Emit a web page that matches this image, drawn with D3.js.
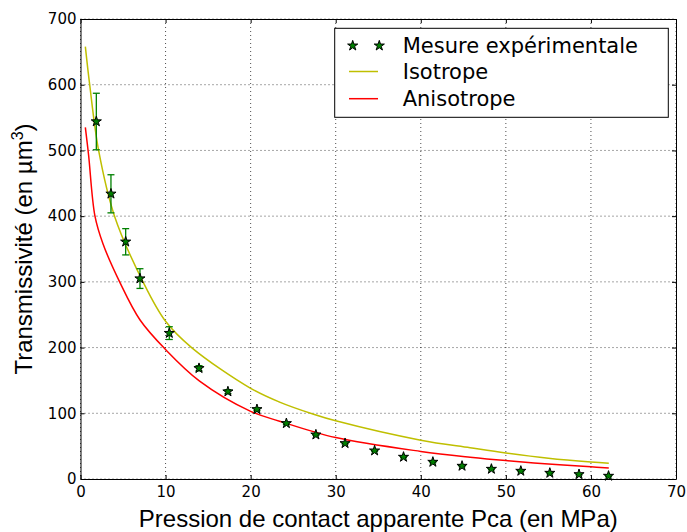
<!DOCTYPE html>
<html>
<head>
<meta charset="utf-8">
<script src="https://cdn.jsdelivr.net/npm/d3@7"></script>
<style>
  body { margin: 0; background: #fff; }
  svg { display: block; }
</style>
</head>
<body>
<div id="chart"></div>
<script>
// ---- Data ----
const pressure = [1.86, 3.58, 5.31, 6.99, 10.44, 13.93, 17.33, 20.74, 24.2, 27.67, 31.1, 34.57, 37.97, 41.42, 44.85, 48.3, 51.76, 55.17, 58.6, 62.07];
const measured = [544, 434, 361, 305, 222, 168.5, 133, 106, 84.7, 67.4, 54.3, 43.1, 33.5, 25.9, 19.8, 15.2, 12.2, 9.1, 7.1, 4.6];
const errors   = [43, 29, 20, 15, 9.7, 4, 3, 2, 1.5, 1, 1, 1, 1, 1, 1, 1, 1, 1, 1, 1];

const isoX   = [0.57, 1.08, 2.13, 4.0, 7.35, 10, 13.06, 20, 23.4, 27.4, 30, 40, 45.8, 50, 55, 60, 62.1];
const isoY   = [658, 600, 500, 400, 300, 240, 200, 138, 117, 98.5, 88.5, 59, 47.5, 39.5, 31.5, 25.8, 24];
const anisoX = [0.57, 0.95, 1.7, 2.64, 4.6, 7.0, 10, 14, 20, 23.4, 30, 40, 45.8, 50, 55, 60, 62.1];
const anisoY = [535, 493, 400, 358, 300, 242, 197, 149, 103, 88, 63, 42, 33.2, 28, 22.9, 18.7, 16.6];

const xTicks = [0, 10, 20, 30, 40, 50, 60, 70];
const yTicks = [0, 100, 200, 300, 400, 500, 600, 700];
const legendLabels = ["Mesure expérimentale", "Isotrope", "Anisotrope"];

// ---- Layout ----
const W = 687, H = 532;
const m = { left: 80.5, right: 11, top: 19, bottom: 53 };
const iw = W - m.left - m.right, ih = H - m.top - m.bottom;

const svg = d3.select("#chart").append("svg").attr("width", W).attr("height", H);
const g = svg.append("g").attr("transform", `translate(${m.left},${m.top})`);

const x = d3.scaleLinear().domain([0, 70]).range([0, iw]);
const y = d3.scaleLinear().domain([0, 700]).range([ih, 0]);

// grid
const grid = g.append("g").attr("class", "grid");
grid.selectAll("line.gx").data(xTicks).join("line")
  .attr("x1", d => x(d)).attr("x2", d => x(d)).attr("y1", 0).attr("y2", ih)
  .attr("stroke", "#000").attr("stroke-width", 1).attr("stroke-dasharray", "1,3").attr("stroke-opacity", 0.7);
grid.selectAll("line.gy").data(yTicks).join("line")
  .attr("y1", d => y(d)).attr("y2", d => y(d)).attr("x1", 0).attr("x2", iw)
  .attr("stroke", "#000").attr("stroke-width", 1).attr("stroke-dasharray", "1,3").attr("stroke-opacity", 0.7);

// curves
const line = d3.line().x(d => x(d[0])).y(d => y(d[1])).curve(d3.curveCatmullRom.alpha(0.5));
g.append("path").datum(isoX.map((v, i) => [v, isoY[i]]))
  .attr("d", line).attr("fill", "none").attr("stroke", "#bfbf00").attr("stroke-width", 1.5);
g.append("path").datum(anisoX.map((v, i) => [v, anisoY[i]]))
  .attr("d", line).attr("fill", "none").attr("stroke", "#ff0000").attr("stroke-width", 1.5);

// error bars
const pts = pressure.map((v, i) => ({ x: v, y: measured[i], e: errors[i] }));
const eb = g.append("g");
pts.forEach(p => {
  const xx = x(p.x), y1 = y(p.y + p.e), y2 = y(p.y - p.e);
  eb.append("line").attr("x1", xx).attr("x2", xx).attr("y1", y1).attr("y2", y2)
    .attr("stroke", "#008000").attr("stroke-width", 1.3);
  [y1, y2].forEach(yy => eb.append("line").attr("x1", xx - 3.5).attr("x2", xx + 3.5).attr("y1", yy).attr("y2", yy)
    .attr("stroke", "#008000").attr("stroke-width", 1.3));
});

// markers
const star = d3.symbol().type(d3.symbolStar).size(32);
g.append("g").selectAll("path").data(pts).join("path")
  .attr("d", star).attr("transform", d => `translate(${x(d.x)},${y(d.y)})`)
  .attr("fill", "#008000").attr("stroke", "#000").attr("stroke-width", 1);

// axes
const tickFont = "'DejaVu Sans', sans-serif";
const ax = g.append("g").attr("transform", `translate(0,${ih})`)
  .call(d3.axisBottom(x).tickValues(xTicks).tickSize(-4).tickPadding(7).tickSizeOuter(0));
const ay = g.append("g")
  .call(d3.axisLeft(y).tickValues(yTicks).tickSize(-4).tickPadding(4).tickSizeOuter(0));
const at = g.append("g")
  .call(d3.axisTop(x).tickValues(xTicks).tickSize(-4).tickFormat("").tickSizeOuter(0));
const ar = g.append("g").attr("transform", `translate(${iw},0)`)
  .call(d3.axisRight(y).tickValues(yTicks).tickSize(-4).tickFormat("").tickSizeOuter(0));
[ax, ay, at, ar].forEach(a => {
  a.selectAll("text").attr("font-family", tickFont).attr("font-size", 15).attr("fill", "#000");
  a.selectAll("line").attr("stroke", "#000");
  a.select(".domain").attr("stroke", "#000").attr("stroke-width", 1);
});

// axis labels
svg.append("text").attr("x", m.left + iw / 2).attr("y", 527).attr("text-anchor", "middle")
  .attr("font-family", "'Liberation Sans', Arial, sans-serif").attr("font-size", 24).attr("fill", "#000")
  .text("Pression de contact apparente Pca (en MPa)");
const yl = svg.append("text").attr("transform", `translate(32,${m.top + ih / 2}) rotate(-90)`)
  .attr("text-anchor", "middle")
  .attr("font-family", "'Liberation Sans', Arial, sans-serif").attr("font-size", 24).attr("fill", "#000");
yl.append("tspan").text("Transmissivité (en µm");
yl.append("tspan").attr("font-size", 16).attr("dy", -9).text("3");
yl.append("tspan").attr("dy", 9).text(")");

// legend
const lg = svg.append("g");
lg.append("rect").attr("x", 334.7).attr("y", 28.3).attr("width", 333.6).attr("height", 89)
  .attr("fill", "#fff").attr("stroke", "#000").attr("stroke-width", 1);
const rowY = [45.7, 71.5, 98.7];
[352.7, 379.3].forEach(sx => lg.append("path").attr("d", star)
  .attr("transform", `translate(${sx},${rowY[0]})`).attr("fill", "#008000").attr("stroke", "#000").attr("stroke-width", 1));
lg.append("line").attr("x1", 349).attr("x2", 378).attr("y1", rowY[1]).attr("y2", rowY[1])
  .attr("stroke", "#bfbf00").attr("stroke-width", 1.5);
lg.append("line").attr("x1", 349).attr("x2", 378).attr("y1", rowY[2]).attr("y2", rowY[2])
  .attr("stroke", "#ff0000").attr("stroke-width", 1.5);
legendLabels.forEach((t, i) => lg.append("text").attr("x", 402.7).attr("y", rowY[i]).attr("dy", "0.36em")
  .attr("font-family", tickFont).attr("font-size", 21).attr("fill", "#000").text(t));
</script>
</body>
</html>
